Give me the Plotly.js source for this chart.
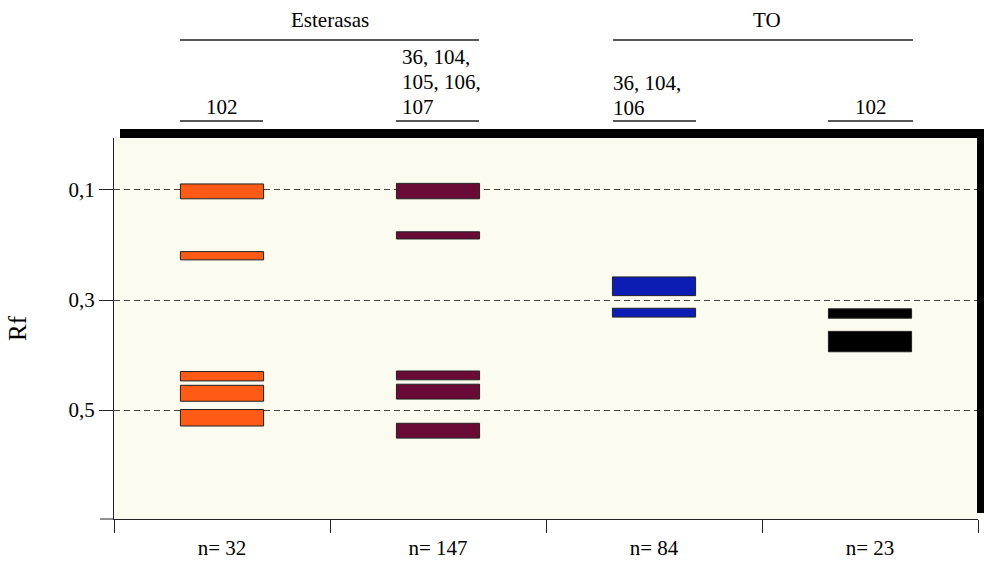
<!DOCTYPE html>
<html><head><meta charset="utf-8">
<script src="https://cdn.plot.ly/plotly-3.0.1.min.js"></script>
<style>html,body{margin:0;padding:0;background:#fff}</style>
</head><body><div id="chart" style="width:984px;height:561px"></div>
<script>
// ---- data ----
const lanes = ["n= 32", "n= 147", "n= 84", "n= 23"];
const groupNames = ["Esterasas", "TO"];
const laneHeaders = [["102"], ["36, 104,", "105, 106,", "107"], ["36, 104,", "106"], ["102"]];
const yTickVals = [0.1, 0.3, 0.5];
const yTickText = ["0,1", "0,3", "0,5"];
// band edges (Rf) per lane
const lane1Top    = [0.089, 0.212, 0.430, 0.455, 0.499];
const lane1Bottom = [0.116, 0.227, 0.447, 0.484, 0.529];
const lane2Top    = [0.088, 0.176, 0.429, 0.453, 0.524];
const lane2Bottom = [0.116, 0.189, 0.445, 0.480, 0.551];
const lane3Top    = [0.258, 0.315];
const lane3Bottom = [0.292, 0.331];
const lane4Top    = [0.316, 0.357];
const lane4Bottom = [0.333, 0.394];
const laneColors = ['#ff5a16', '#6a0a36', '#0d1cb4', '#000000'];

// ---- build ----
const tops = [lane1Top, lane2Top, lane3Top, lane4Top];
const bottoms = [lane1Bottom, lane2Bottom, lane3Bottom, lane4Bottom];
const FONT = 'Liberation Serif, Times New Roman, serif';
const FS = 21;
const traces = tops.map((t, i) => ({
  type: 'bar',
  x: t.map(() => lanes[i]),
  base: t,
  y: t.map((v, k) => bottoms[i][k] - v),
  width: 0.385,
  marker: {color: laneColors[i], line: {color: '#222', width: 1}},
  hoverinfo: 'skip',
  showlegend: false
}));

// pixel -> paper helpers for decorations
const L = 114, R = 978, T = 138, B = 519;
const px = x => (x - L) / (R - L);
const py = y => (B - y) / (B - T);

const shapes = [
  {type: 'rect', xref: 'paper', yref: 'paper', x0: px(120), x1: px(990), y0: py(138), y1: py(129), fillcolor: '#000', line: {width: 0}},
  {type: 'rect', xref: 'paper', yref: 'paper', x0: px(977), x1: px(990), y0: py(513), y1: py(129), fillcolor: '#000', line: {width: 0}},
  {type: 'line', xref: 'paper', yref: 'paper', x0: px(100), x1: px(114), y0: py(519), y1: py(519), line: {color: '#222', width: 1}},
];
const hline = (a, b, y) => ({type: 'line', xref: 'paper', yref: 'paper', x0: px(a), x1: px(b), y0: py(y), y1: py(y), line: {color: '#222', width: 1.3}});
shapes.push(hline(180, 479, 40), hline(613, 913, 40));
shapes.push(hline(180, 263, 121), hline(396, 479, 121), hline(613, 696, 121), hline(828, 913, 121));

const ann = (text, x, y, anchor) => ({text, xref: 'paper', yref: 'paper', x: px(x), y: py(y), xanchor: anchor, yanchor: 'middle', showarrow: false, font: {family: FONT, size: FS, color: '#000'}});
const annotations = [
  ann(groupNames[0], 330, 20, 'center'),
  ann(groupNames[1], 767, 20, 'center'),
  ann(laneHeaders[0][0], 222, 107, 'center'),
  ann(laneHeaders[1][0], 400, 57, 'left'),
  ann(laneHeaders[1][1], 400, 82, 'left'),
  ann(laneHeaders[1][2], 400, 107, 'left'),
  ann(laneHeaders[2][0], 611, 83, 'left'),
  ann(laneHeaders[2][1], 611, 108, 'left'),
  ann(laneHeaders[3][0], 871, 107, 'center'),
];

const layout = {
  width: 984, height: 561,
  margin: {l: L, r: 984 - R, t: T, b: 561 - B},
  paper_bgcolor: '#ffffff',
  plot_bgcolor: '#fbfbef',
  barmode: 'overlay',
  font: {family: FONT, size: FS, color: '#000'},
  xaxis: {
    type: 'category', categoryarray: lanes, range: [-0.5, 3.5],
    tickson: 'boundaries', ticks: 'outside', ticklen: 13, tickcolor: '#222', tickwidth: 1,
    showline: true, linecolor: '#222', linewidth: 1, showgrid: false, zeroline: false,
    tickfont: {family: FONT, size: FS, color: '#000'}, ticklabelstandoff: 10, fixedrange: true
  },
  yaxis: {
    range: [0.698, 0.0055],
    tickmode: 'array', tickvals: yTickVals, ticktext: yTickText,
    ticks: 'outside', ticklen: 14, tickcolor: '#222', tickwidth: 1,
    showline: true, linecolor: '#222', linewidth: 1,
    showgrid: true, gridcolor: '#444', gridwidth: 1, griddash: '6px,4px', zeroline: false,
    tickfont: {family: FONT, size: FS, color: '#000'},
    title: {text: 'Rf', font: {family: FONT, size: 25, color: '#000'}, standoff: 34},
    fixedrange: true
  },
  shapes, annotations
};
Plotly.newPlot('chart', traces, layout, {displayModeBar: false, staticPlot: true});
</script>
</body></html>
